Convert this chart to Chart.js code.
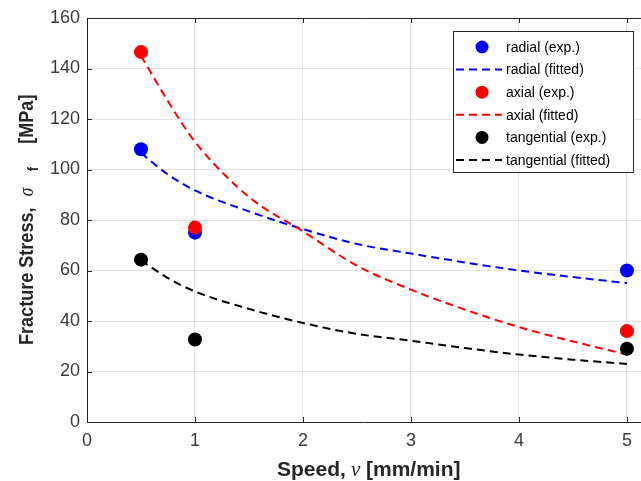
<!DOCTYPE html>
<html>
<head>
<meta charset="utf-8">
<script src="https://cdn.jsdelivr.net/npm/chart.js@4/dist/chart.umd.min.js"></script>
<style>
  body { margin: 0; background: #fff; }
  #wrap { width: 641px; height: 481px; }
</style>
</head>
<body>
<div id="wrap"><canvas id="stressChart"></canvas></div>
<script>
// measured points
const speedExp = [0.5, 1, 5];
const radialExp = [108, 75, 60];
const axialExp = [146.5, 77, 36];
const tangentialExp = [64.3, 32.7, 29];

// fitted curves
const speedFit = [0.5, 0.75, 1, 1.5, 2, 2.5, 3, 3.5, 4, 4.5, 5];
const radialFit = [106.5, 98, 91.7, 83.4, 76.4, 70.5, 66.7, 63.2, 60, 57.4, 55];
const axialFit = [145, 127, 111, 89.1, 75.5, 61.9, 52.4, 44.5, 37.6, 31.9, 26.7];
const tangentialFit = [64, 57, 51.7, 44.8, 39.2, 34.9, 32.2, 29.3, 26.7, 24.7, 23];

const xTicks = [0, 1, 2, 3, 4, 5];
const yTicks = [0, 20, 40, 60, 80, 100, 120, 140, 160];

const FONT = "'Liberation Sans', Arial, Helvetica, sans-serif";
const SERIF = "'Liberation Serif', 'DejaVu Serif', serif";
const AXIS = "#262626";

function pts(xs, ys) {
  return xs.map((x, i) => ({ x: x, y: ys[i] }));
}

function expSet(label, xs, ys, color, order) {
  return {
    type: "scatter",
    label: label,
    data: pts(xs, ys),
    showLine: false,
    pointRadius: 7,
    pointBackgroundColor: color,
    pointBorderColor: color,
    pointBorderWidth: 0,
    backgroundColor: color,
    borderColor: color,
    order: order,
  };
}

function fitSet(label, xs, ys, color, order) {
  return {
    type: "line",
    label: label,
    data: pts(xs, ys),
    borderColor: color,
    backgroundColor: color,
    borderWidth: 2,
    borderDash: [8, 5],
    pointRadius: 0,
    fill: false,
    cubicInterpolationMode: "monotone",
    order: order,
  };
}

// draws [text, font, offsetAlong, offsetDown] pieces
function drawParts(ctx, parts) {
  ctx.textAlign = "left";
  ctx.textBaseline = "alphabetic";
  parts.forEach((p) => {
    ctx.font = p[1];
    ctx.fillText(p[0], p[2], p[3]);
  });
}

// axes box, inward ticks and the two axis titles
const framePlugin = {
  id: "frame",
  afterDatasetsDraw(chart) {
    const ctx = chart.ctx;
    const a = chart.chartArea;
    const xs = chart.scales.x;
    const ys = chart.scales.y;
    ctx.save();
    ctx.strokeStyle = AXIS;
    ctx.lineWidth = 1;
    ctx.beginPath();
    ctx.moveTo(a.left + 0.5, a.top + 0.5);
    ctx.lineTo(a.left + 0.5, a.bottom + 0.5);
    ctx.lineTo(a.right, a.bottom + 0.5);
    ctx.moveTo(a.left + 0.5, a.top + 0.5);
    ctx.lineTo(a.right, a.top + 0.5);
    xTicks.forEach((v) => {
      const px = Math.round(xs.getPixelForValue(v)) + 0.5;
      ctx.moveTo(px, a.bottom);
      ctx.lineTo(px, a.bottom - 5);
      ctx.moveTo(px, a.top);
      ctx.lineTo(px, a.top + 5);
    });
    yTicks.forEach((v) => {
      const py = Math.round(ys.getPixelForValue(v)) + 0.5;
      ctx.moveTo(a.left, py);
      ctx.lineTo(a.left + 5, py);
    });
    ctx.stroke();

    ctx.fillStyle = AXIS;
    // x title: Speed, ν [mm/min]
    ctx.save();
    ctx.translate(277, 476);
    drawParts(ctx, [
      ["Speed,", "bold 21px " + FONT, 0, 0],
      ["ν", "italic 21px " + SERIF, 74, 0],
      ["[mm/min]", "bold 21px " + FONT, 89, 0],
    ]);
    ctx.restore();

    // y title: Fracture Stress, σ_f [MPa]
    ctx.save();
    ctx.translate(33, 345);
    ctx.rotate(-Math.PI / 2);
    ctx.scale(0.86, 1);
    drawParts(ctx, [
      ["Fracture Stress,", "bold 21px " + FONT, 0, 0],
      ["σ", "italic 20px " + SERIF, 173, 0],
      ["f", "bold 15px " + FONT, 202, 5],
      ["[MPa]", "bold 21px " + FONT, 234, 0],
    ]);
    ctx.restore();
    ctx.restore();
  },
};

// boxed legend in the upper right corner
const legendPlugin = {
  id: "boxLegend",
  afterDatasetsDraw(chart) {
    const ctx = chart.ctx;
    const left = 453, top = 31, w = 180, h = 141;
    ctx.save();
    ctx.fillStyle = "#fff";
    ctx.fillRect(left, top, w, h);
    ctx.strokeStyle = AXIS;
    ctx.lineWidth = 1;
    ctx.strokeRect(left + 0.5, top + 0.5, w, h);
    ctx.font = "14px " + FONT;
    ctx.textBaseline = "middle";
    ctx.textAlign = "left";
    chart.data.datasets.forEach((ds, i) => {
      const cy = top + 16 + i * 22.6;
      if (ds.showLine === false) {
        ctx.fillStyle = ds.backgroundColor;
        ctx.beginPath();
        ctx.arc(left + 29, cy, 6.5, 0, Math.PI * 2);
        ctx.fill();
      } else {
        ctx.strokeStyle = ds.borderColor;
        ctx.lineWidth = 2;
        ctx.setLineDash([8, 5]);
        ctx.beginPath();
        ctx.moveTo(left + 3, cy);
        ctx.lineTo(left + 49, cy);
        ctx.stroke();
        ctx.setLineDash([]);
      }
      ctx.fillStyle = "#000";
      ctx.fillText(ds.label, left + 53, cy + 1);
    });
    ctx.restore();
  },
};

new Chart(document.getElementById("stressChart"), {
  data: {
    datasets: [
      expSet("radial (exp.)", speedExp, radialExp, "#0000ff", 6),
      fitSet("radial (fitted)", speedFit, radialFit, "#0000ff", 5),
      expSet("axial (exp.)", speedExp, axialExp, "#ff0000", 4),
      fitSet("axial (fitted)", speedFit, axialFit, "#ff0000", 3),
      expSet("tangential (exp.)", speedExp, tangentialExp, "#000000", 2),
      fitSet("tangential (fitted)", speedFit, tangentialFit, "#000000", 1),
    ],
  },
  options: {
    responsive: true,
    maintainAspectRatio: false,
    animation: false,
    layout: { autoPadding: false, padding: { top: 18, left: 0, right: 0, bottom: 0 } },
    plugins: {
      legend: { display: false },
      tooltip: { enabled: false },
      title: { display: false },
    },
    scales: {
      x: {
        type: "linear",
        min: 0,
        max: 5.13,
        afterBuildTicks: (s) => { s.ticks = xTicks.map((v) => ({ value: v })); },
        afterFit: (s) => {
          s.height = 59;
          s.paddingLeft = 0;
          s.paddingRight = 0;
        },
        grid: { color: "#e3e3e3", drawTicks: false },
        border: { display: false },
        ticks: {
          padding: 8,
          color: "#3a3a3a",
          font: { family: FONT, size: 18 },
          maxRotation: 0,
        },
      },
      y: {
        type: "linear",
        min: 0,
        max: 160,
        afterBuildTicks: (s) => { s.ticks = yTicks.map((v) => ({ value: v })); },
        afterFit: (s) => {
          s.width = 87;
          s.paddingTop = 0;
          s.paddingBottom = 0;
        },
        grid: { color: "#e3e3e3", drawTicks: false },
        border: { display: false },
        ticks: {
          padding: 7,
          color: "#3a3a3a",
          font: { family: FONT, size: 18 },
        },
      },
    },
  },
  plugins: [framePlugin, legendPlugin],
});
</script>
</body>
</html>
